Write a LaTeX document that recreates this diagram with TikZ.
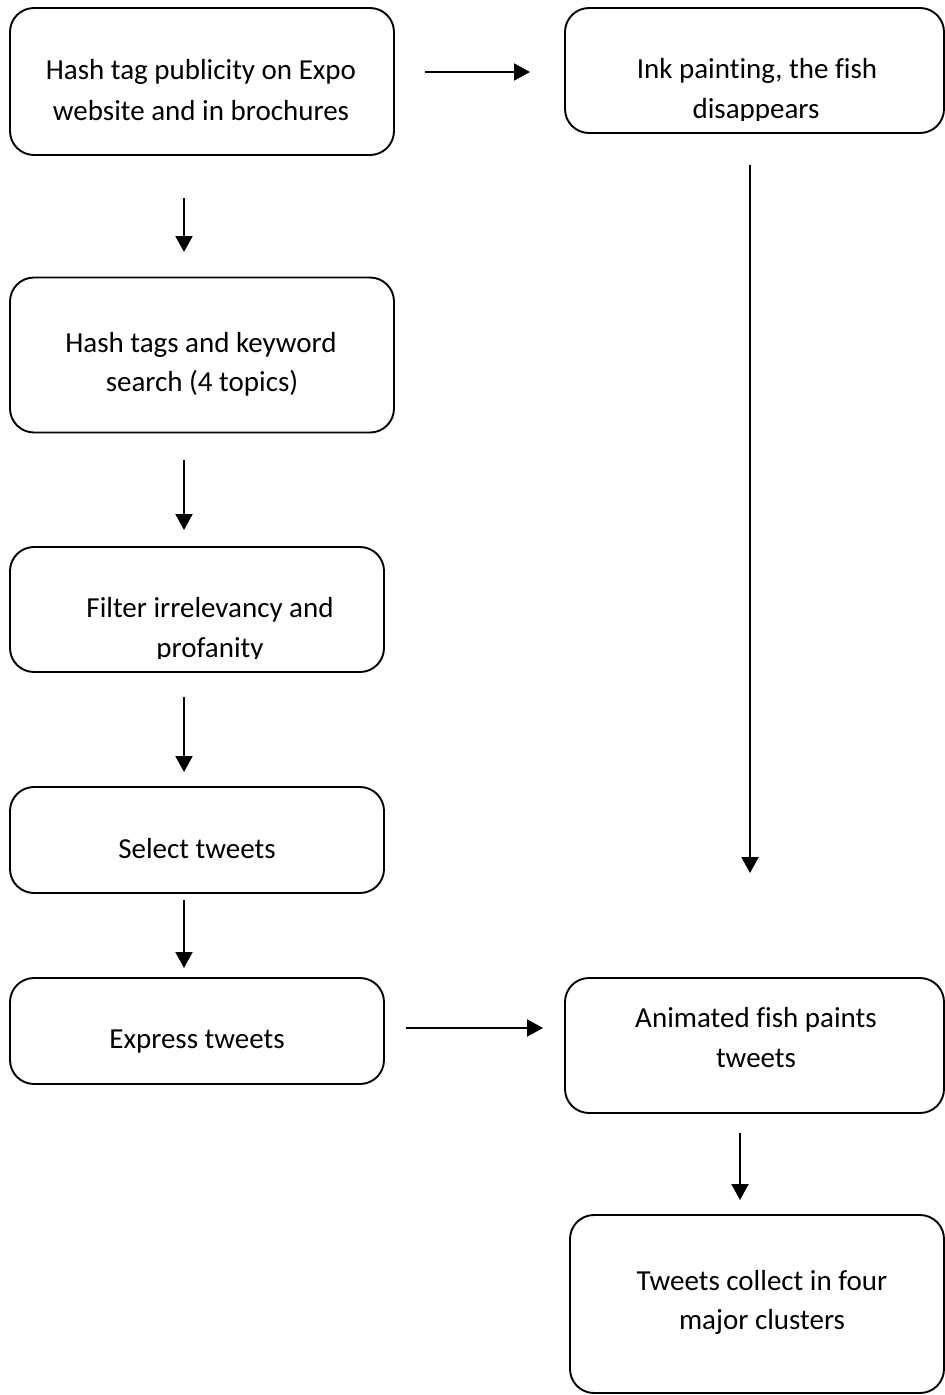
\documentclass[tikz,border=0pt]{standalone}
\usepackage{fontspec}
\setmainfont{Carlito}[Ligatures=CommonOff]
\usetikzlibrary{arrows.meta}
\begin{document}
\begin{tikzpicture}[x=1pt,y=-1pt,
  stagebox/.style={draw=black, line width=1.9pt, rounded corners=24pt, inner sep=0pt},
  linetext/.style={font=\fontsize{29}{40}\selectfont, anchor=base, inner sep=0pt},
  flow/.style={line width=2pt, -{Triangle[length=16pt,width=17pt]}}]
\useasboundingbox (0,0) rectangle (945,1395);

% boxes
\node[stagebox, minimum width=384pt, minimum height=147pt] (pub)    at (202,81.5)  {};
\node[stagebox, minimum width=379pt, minimum height=125pt] (ink)    at (754.5,70.5) {};
\node[stagebox, minimum width=384pt, minimum height=155pt] (search) at (202,355)   {};
\node[stagebox, minimum width=374pt, minimum height=125pt] (filter) at (197,609.5) {};
\node[stagebox, minimum width=374pt, minimum height=106pt] (select) at (197,840)   {};
\node[stagebox, minimum width=374pt, minimum height=106pt] (express) at (197,1031) {};
\node[stagebox, minimum width=379pt, minimum height=135pt] (animate) at (754.5,1045.5) {};
\node[stagebox, minimum width=374pt, minimum height=178pt] (cluster) at (757,1304) {};

% texts
\node[linetext] (pubA) at (201,79)  {Hash tag publicity on Expo};
\node[linetext] (pubB) at (201,120) {website and in brochures};
\begin{scope}
  \clip (566,9) rectangle (943,120);
  \node[linetext] (inkA) at (757,78)  {Ink painting, the fish};
  \node[linetext] (inkB) at (756,118) {disappears};
\end{scope}
\node[linetext] (searchA) at (201,352) {Hash tags and keyword};
\node[linetext] (searchB) at (202,391) {search (4 topics)};
\begin{scope}
  \clip (11,548) rectangle (383,658);
  \node[linetext] (filterA) at (210,617) {Filter irrelevancy and};
  \node[linetext] (filterB) at (210,657) {profanity};
\end{scope}
\node[linetext] (selectA) at (197,858) {Select tweets};
\node[linetext] (expressA) at (197,1048) {Express tweets};
\node[linetext] (animateA) at (756,1027) {Animated fish paints};
\node[linetext] (animateB) at (756,1067) {tweets};
\node[linetext] (clusterA) at (762,1290) {Tweets collect in four};
\node[linetext] (clusterB) at (762,1329) {major clusters};

% arrow end points
\coordinate (p1s) at (425,72);   \coordinate (p1e) at (530,72);
\coordinate (p2s) at (184,198);  \coordinate (p2e) at (184,252);
\coordinate (p3s) at (184,460);  \coordinate (p3e) at (184,530);
\coordinate (p4s) at (184,697);  \coordinate (p4e) at (184,772);
\coordinate (p5s) at (184,900);  \coordinate (p5e) at (184,968);
\coordinate (p6s) at (406,1028); \coordinate (p6e) at (543,1028);
\coordinate (p7s) at (750,165);  \coordinate (p7e) at (750,873);
\coordinate (p8s) at (740,1133); \coordinate (p8e) at (740,1200);

% arrows
\draw[flow] (p1s) -- (p1e);
\draw[flow] (p2s) -- (p2e);
\draw[flow] (p3s) -- (p3e);
\draw[flow] (p4s) -- (p4e);
\draw[flow] (p5s) -- (p5e);
\draw[flow] (p6s) -- (p6e);
\draw[flow] (p7s) -- (p7e);
\draw[flow] (p8s) -- (p8e);
\end{tikzpicture}
\end{document}
